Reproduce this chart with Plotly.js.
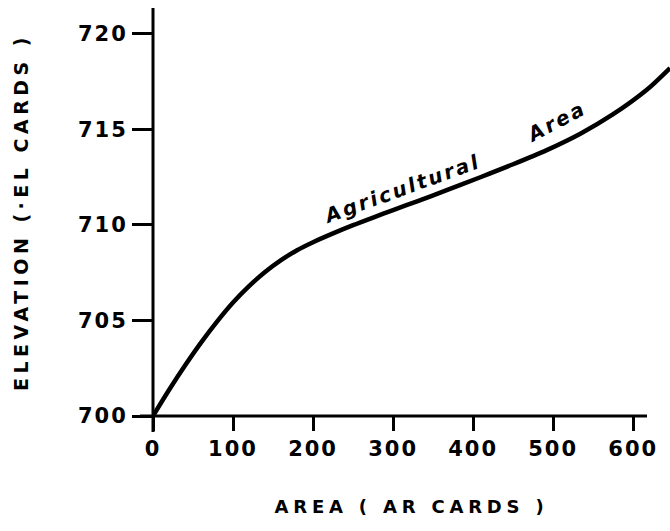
<!DOCTYPE html>
<html>
<head>
<meta charset="utf-8">
<script src="https://cdn.plot.ly/plotly-3.0.1.min.js"></script>
<style>
  html, body { margin: 0; padding: 0; background: #fff; }
  #chart { width: 670px; height: 531px; }
  .xtitle { letter-spacing: 4.8px; }
  .ytitle { letter-spacing: 4.5px; }
  .xtick text, .ytick text { letter-spacing: 2px; }
  .annotation-text { letter-spacing: 2.5px; }
</style>
</head>
<body>
<div id="chart"></div>
<script>
// Curve (area in AR cards, elevation in EL cards)
const areaValues = [0, 20, 40, 60, 80, 100, 120, 140, 160, 180, 200, 225, 250, 275, 300, 330, 367, 409, 450, 492, 534, 575, 617, 646];
const elevationValues = [700, 701.36, 702.64, 703.84, 704.94, 705.94, 706.8, 707.54, 708.16, 708.68, 709.1, 709.56, 709.99, 710.39, 710.78, 711.24, 711.82, 712.5, 713.18, 713.92, 714.78, 715.8, 717.08, 718.22];

const xTickVals = [0, 100, 200, 300, 400, 500, 600];
const yTickVals = [700, 705, 710, 715, 720];

const xTitle = "AREA ( AR CARDS )";
const yTitle = "ELEVATION (·EL CARDS )";
const curveLabels = ["Agricultural", "Area"];
const labelX = [310, 503];
const labelY = [711.9, 715.4];
const labelAngle = [-20, -28];

const fontFamily = "DejaVu Sans, Verdana, sans-serif";

const trace = {
  x: areaValues,
  y: elevationValues,
  type: "scatter",
  mode: "lines",
  line: { color: "#000", width: 4.5, shape: "spline", smoothing: 0.8 },
  hoverinfo: "skip"
};

const layout = {
  width: 670,
  height: 531,
  margin: { l: 153, r: 0, t: 8, b: 115 },
  paper_bgcolor: "#fff",
  plot_bgcolor: "#fff",
  showlegend: false,
  font: { family: fontFamily, color: "#000" },
  xaxis: {
    range: [0, 646],
    tickvals: xTickVals,
    ticktext: xTickVals.map(String),
    ticks: "outside",
    ticklen: 14,
    tickwidth: 3,
    tickcolor: "#000",
    showgrid: false,
    zeroline: false,
    showline: false,
    tickfont: { family: fontFamily, size: 21, weight: "bold", color: "#000" },
    title: { text: xTitle, font: { family: fontFamily, size: 18, weight: "bold", color: "#000" }, standoff: 40 }
  },
  yaxis: {
    range: [700, 721.36],
    tickvals: yTickVals,
    ticktext: yTickVals.map(String),
    ticks: "outside",
    ticklen: 20,
    tickwidth: 3,
    tickcolor: "#000",
    showgrid: false,
    zeroline: false,
    showline: false,
    tickfont: { family: fontFamily, size: 21, weight: "bold", color: "#000" },
    title: { text: yTitle, font: { family: fontFamily, size: 19, weight: "bold", color: "#000" }, standoff: 44 }
  },
  shapes: [
    { type: "line", xref: "paper", yref: "paper", x0: -0.0251, x1: 0.9555, y0: 0, y1: 0, line: { color: "#000", width: 3 } },
    { type: "line", xref: "paper", yref: "paper", x0: 0, x1: 0, y0: -0.039, y1: 1, line: { color: "#000", width: 3 } }
  ],
  annotations: curveLabels.map((t, i) => ({
    text: t,
    x: labelX[i],
    y: labelY[i],
    xref: "x",
    yref: "y",
    showarrow: false,
    textangle: labelAngle[i],
    font: { family: fontFamily, size: 20, style: "italic", weight: "bold", color: "#000" }
  }))
};

Plotly.newPlot("chart", [trace], layout, { displayModeBar: false, staticPlot: true });
</script>
</body>
</html>
